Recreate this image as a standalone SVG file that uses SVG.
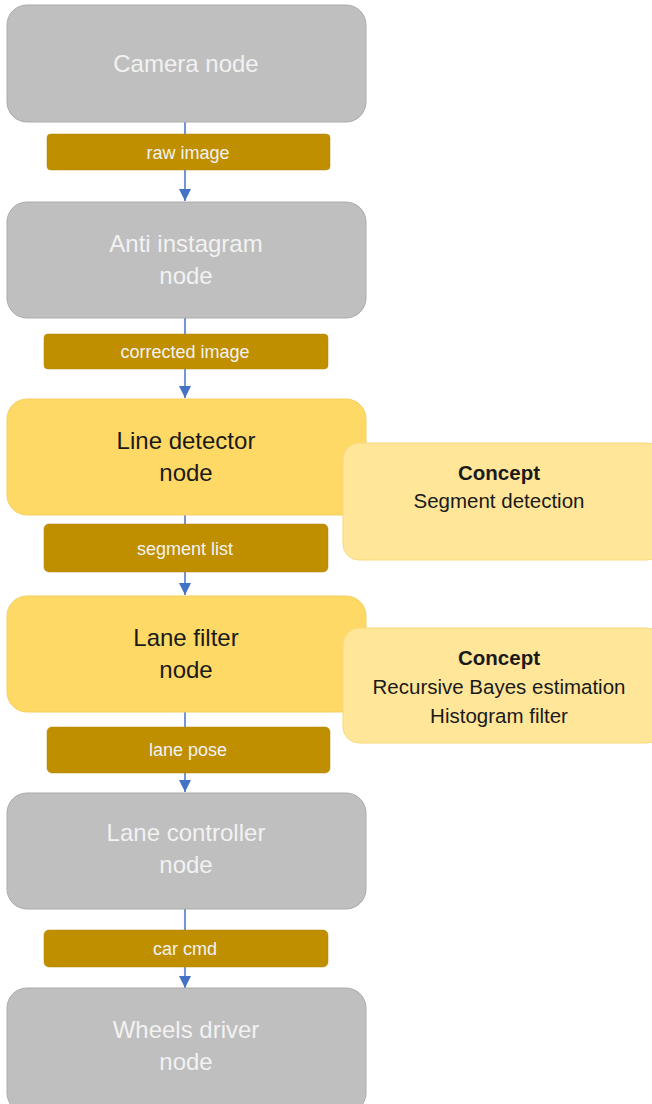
<svg xmlns="http://www.w3.org/2000/svg" width="652" height="1104" viewBox="0 0 652 1104">
<style>
.gray{fill:#BFBFBF;stroke:#ABABAB;stroke-width:1}
.gold{fill:#FFD966;stroke:#F5CF5F;stroke-width:1}
.concept{fill:#FFE699;stroke:#F9D97A;stroke-width:1}
.lbl{fill:#BF8F00;stroke:#B08400;stroke-width:0.5}
.t{font-family:"Liberation Sans",Arial,sans-serif;text-anchor:middle}
.tg{fill:#F2F2F2;font-size:24px}
.td{fill:#1a1a1a;font-size:24px}
.tl{fill:#F2F2F2;font-size:18px}
.tc{fill:#1a1a1a;font-size:20.5px}
.conn{stroke:#4472C4;stroke-width:1.5;fill:none}
</style>
<defs>
<marker id="ah" markerWidth="14" markerHeight="14" refX="12" refY="6" orient="auto" markerUnits="userSpaceOnUse">
<path d="M0,0 L12,6 L0,12 z" fill="#4472C4"/>
</marker>
</defs>
<g id="connectors">
<line class="conn" x1="185" y1="122" x2="185" y2="201" marker-end="url(#ah)"/>
<line class="conn" x1="185" y1="318" x2="185" y2="398" marker-end="url(#ah)"/>
<line class="conn" x1="185" y1="514" x2="185" y2="595" marker-end="url(#ah)"/>
<line class="conn" x1="185" y1="711" x2="185" y2="792" marker-end="url(#ah)"/>
<line class="conn" x1="185" y1="908" x2="185" y2="988" marker-end="url(#ah)"/>
</g>
<g id="camera"><rect class="gray" x="7" y="5" width="359" height="117" rx="20"/><text class="t tg" x="186" y="72">Camera node</text></g>
<g id="raw-image"><rect class="lbl" x="47" y="134" width="283" height="36" rx="4"/><text class="t tl" x="188" y="159">raw image</text></g>
<g id="anti-instagram"><rect class="gray" x="7" y="202" width="359" height="116" rx="20"/><text class="t tg" x="186" y="252">Anti instagram</text><text class="t tg" x="186" y="284">node</text></g>
<g id="corrected-image"><rect class="lbl" x="44" y="334" width="284" height="35" rx="4"/><text class="t tl" x="185" y="358">corrected image</text></g>
<g id="line-detector"><rect class="gold" x="7" y="399" width="359" height="116" rx="20"/><text class="t td" x="186" y="449">Line detector</text><text class="t td" x="186" y="481">node</text></g>
<g id="segment-list"><rect class="lbl" x="44" y="524" width="284" height="48" rx="5"/><text class="t tl" x="185" y="555">segment  list</text></g>
<g id="concept-1"><rect class="concept" x="343" y="443" width="320" height="117" rx="16"/><text class="t tc" x="499" y="480" font-weight="bold">Concept</text><text class="t tc" x="499" y="508">Segment detection</text></g>
<g id="lane-filter"><rect class="gold" x="7" y="596" width="359" height="116" rx="20"/><text class="t td" x="186" y="646">Lane filter</text><text class="t td" x="186" y="678">node</text></g>
<g id="lane-pose"><rect class="lbl" x="47" y="727" width="283" height="46" rx="5"/><text class="t tl" x="188" y="756">lane pose</text></g>
<g id="concept-2"><rect class="concept" x="343" y="628" width="320" height="115" rx="16"/><text class="t tc" x="499" y="665" font-weight="bold">Concept</text><text class="t tc" x="499" y="694">Recursive  Bayes estimation</text><text class="t tc" x="499" y="723">Histogram filter</text></g>
<g id="lane-controller"><rect class="gray" x="7" y="793" width="359" height="116" rx="20"/><text class="t tg" x="186" y="841">Lane controller</text><text class="t tg" x="186" y="873">node</text></g>
<g id="car-cmd"><rect class="lbl" x="44" y="930" width="284" height="37" rx="5"/><text class="t tl" x="185" y="955">car cmd</text></g>
<g id="wheels-driver"><rect class="gray" x="7" y="988" width="359" height="125" rx="20"/><text class="t tg" x="186" y="1038">Wheels driver</text><text class="t tg" x="186" y="1070">node</text></g>
</svg>
